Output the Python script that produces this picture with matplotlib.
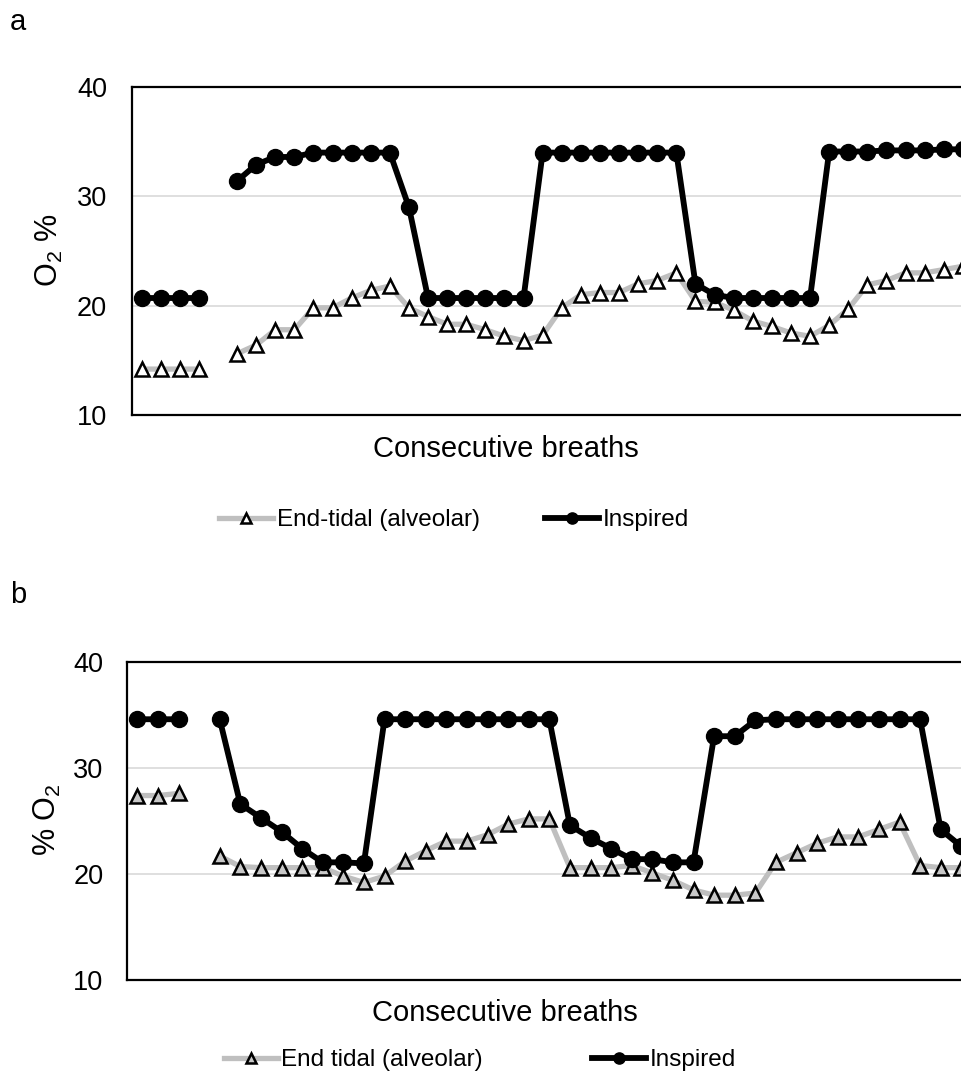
import numpy as np
import matplotlib
matplotlib.use("Agg")
import matplotlib.pyplot as plt

plt.rcParams["font.family"] = ["Liberation Sans", "DejaVu Sans"]
plt.rcParams["mathtext.fontset"] = "custom"
plt.rcParams["mathtext.rm"] = "Liberation Sans"
plt.rcParams["mathtext.it"] = "Liberation Sans:italic"

nan = np.nan

# panel a: O2 per breath, gap at breath 5
end_tidal_a = [14.2, 14.2, 14.2, 14.2, nan,
               15.6, 16.4, 17.8, 17.8, 19.8, 19.8, 20.7, 21.4, 21.8,
               19.8, 19.0, 18.3, 18.3, 17.8, 17.2, 16.8, 17.3,
               19.8, 21.0, 21.2, 21.2, 22.0, 22.3, 23.0,
               20.4, 20.3, 19.6, 18.6, 18.1, 17.5, 17.2,
               18.2, 19.7, 21.9, 22.3, 23.0, 23.0, 23.3, 23.6]
inspired_a = [20.7, 20.7, 20.7, 20.7, nan,
              31.4, 32.9, 33.6, 33.6, 34.0, 34.0, 34.0, 34.0, 34.0,
              29.0, 20.7, 20.7, 20.7, 20.7, 20.7, 20.7,
              34.0, 34.0, 34.0, 34.0, 34.0, 34.0, 34.0, 34.0,
              22.0, 21.0, 20.7, 20.7, 20.7, 20.7, 20.7,
              34.1, 34.1, 34.1, 34.2, 34.2, 34.2, 34.3, 34.3]

# panel b: gap at breath 4
end_tidal_b = [27.4, 27.4, 27.6, nan,
               21.7, 20.7, 20.6, 20.6, 20.6, 20.6, 19.8, 19.2, 19.8,
               21.2, 22.2, 23.1, 23.1, 23.7, 24.7, 25.2, 25.2,
               20.6, 20.6, 20.6, 20.8, 20.1, 19.4, 18.5, 18.0, 18.0, 18.2,
               21.1, 22.0, 22.9, 23.5, 23.5, 24.2, 24.9,
               20.8, 20.6, 20.6]
inspired_b = [34.6, 34.6, 34.6, nan,
              34.6, 26.6, 25.3, 24.0, 22.4, 21.1, 21.1, 21.0,
              34.6, 34.6, 34.6, 34.6, 34.6, 34.6, 34.6, 34.6, 34.6,
              24.6, 23.4, 22.4, 21.4, 21.4, 21.1, 21.1,
              33.0, 33.0, 34.5,
              34.6, 34.6, 34.6, 34.6, 34.6, 34.6, 34.6, 34.6,
              24.2, 22.6]

y_ticks = [10, 20, 30, 40]

W, H = 961, 1078
fig = plt.figure(figsize=(W / 100, H / 100), dpi=100)


def px_axes(left, top, bottom, step, n=46):
    # axes box given in pixels; the plot area runs past the right edge
    return fig.add_axes([left / W, 1 - bottom / H, n * step / W, (bottom - top) / H])


def style(ax, n=46, pad=17):
    ax.set_xlim(-0.5, n - 0.5)
    ax.set_ylim(10, 40)
    ax.set_yticks(y_ticks)
    ax.set_xticks([])
    ax.tick_params(axis="y", length=0, pad=pad, labelsize=19.5)
    ax.yaxis.grid(True, color="#d9d9d9", lw=1.2)
    ax.set_axisbelow(True)
    for s in ax.spines.values():
        s.set_color("black")
        s.set_linewidth(1.6)


def draw(ax, et, insp, tri_fill, et_label):
    x = np.arange(len(et))
    ax.plot(x, et, color="#bfbfbf", lw=3.8, marker="^", ms=10.5,
            mfc=tri_fill, mec="black", mew=1.8, label=et_label)
    ax.plot(x, insp, color="black", lw=4.2, marker="o", ms=11.5,
            label="Inspired")


ax_a = px_axes(132, 87, 415, 19.1)
style(ax_a, pad=18)
draw(ax_a, end_tidal_a, inspired_a, "white", "End-tidal (alveolar)")

ax_b = px_axes(127, 662, 980, 20.6)
style(ax_b, pad=17)
draw(ax_b, end_tidal_b, inspired_b, "#c8c8c8", "End tidal (alveolar)")

# labels
fig.text(10 / W, 1 - 22 / H, "a", fontsize=21, va="center", ha="left")
fig.text(10 / W, 1 - 595 / H, "b", fontsize=21, va="center", ha="left")
fig.text(49 / W, 1 - 250 / H, r"O$_\mathrm{2}$ %", fontsize=22,
         rotation=90, va="center", ha="center")
fig.text(47 / W, 1 - 820 / H, r"% O$_\mathrm{2}$", fontsize=22,
         rotation=90, va="center", ha="center")
fig.text(506 / W, 1 - 449 / H, "Consecutive breaths", fontsize=21,
         va="center", ha="center")
fig.text(505 / W, 1 - 1013 / H, "Consecutive breaths", fontsize=21,
         va="center", ha="center")

leg_kw = dict(loc="center", bbox_transform=fig.transFigure, ncol=2,
              frameon=False, fontsize=17.5, handlelength=2.2,
              handletextpad=0.15, markerscale=0.7)
ax_a.legend(bbox_to_anchor=(454 / W, 1 - 520 / H), columnspacing=2.7, **leg_kw)
ax_b.legend(bbox_to_anchor=(480 / W, 1 - 1060 / H), columnspacing=4.5, **leg_kw)

fig.savefig("out.png", dpi=100)
